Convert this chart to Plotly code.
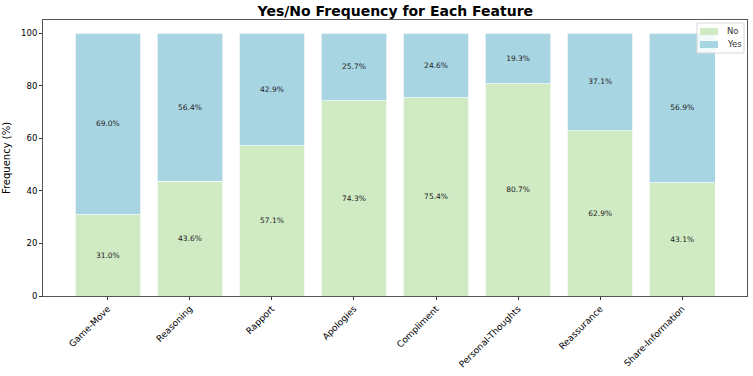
import plotly.graph_objects as go

features = ['Game-Move', 'Reasoning', 'Rapport', 'Apologies', 'Compliment',
            'Personal-Thoughts', 'Reassurance', 'Share-Information']
no_pct = [31.0, 43.6, 57.1, 74.3, 75.4, 80.7, 62.9, 43.1]
yes_pct = [69.0, 56.4, 42.9, 25.7, 24.6, 19.3, 37.1, 56.9]
y_ticks = [0, 20, 40, 60, 80, 100]

font = 'DejaVu Sans'
x = list(range(len(features)))
series = [('No', no_pct, '#d0eac3'), ('Yes', yes_pct, '#a8d5e2')]

fig = go.Figure()
for name, vals, color in series:
    fig.add_trace(go.Bar(
        x=x, y=vals, name=name, width=0.8,
        marker=dict(color=color, line=dict(color='white', width=0.7)),
        text=['{:.1f}%'.format(v) for v in vals],
        textposition='inside', insidetextanchor='middle', textangle=0,
        constraintext='none',
        textfont=dict(family=font, size=7.5, color='#222222'),
        hoverinfo='skip',
    ))

# small matplotlib-like legend box drawn by hand (plotly's own is too tall)
fig.add_shape(type='rect', xref='paper', yref='paper',
              x0=(697 - 43) / 704, x1=(744 - 43) / 704,
              y0=(296 - 53) / 276, y1=(296 - 23) / 276,
              line=dict(color='#d8d8d8', width=1), fillcolor='rgba(255,255,255,0.85)')
for i, (name, vals, color) in enumerate(series):
    yc = 31.5 + i * 13
    fig.add_shape(type='rect', xref='paper', yref='paper',
                  x0=(700 - 43) / 704, x1=(718 - 43) / 704,
                  y0=(296 - yc - 3.5) / 276, y1=(296 - yc + 3.5) / 276,
                  line=dict(width=0), fillcolor=color)
    fig.add_annotation(text=name, xref='paper', yref='paper',
                       x=(725 - 43) / 704, y=(296 - yc) / 276,
                       xanchor='left', yanchor='middle', showarrow=False,
                       font=dict(size=8.5, color='#333'))

fig.update_layout(
    barmode='stack',
    width=753, height=376,
    margin=dict(l=43, r=6, t=20, b=80, autoexpand=False),
    paper_bgcolor='white', plot_bgcolor='white',
    font=dict(family=font, size=8, color='black'),
    title=dict(text='<b>Yes/No Frequency for Each Feature</b>', x=0.525, xref='container',
               y=0.97, yanchor='middle', font=dict(family=font, size=14)),
    showlegend=False,
)
fig.update_xaxes(
    range=[-0.79, 7.79], tickmode='array', tickvals=x, ticktext=features,
    tickangle=-45, ticks='outside', ticklen=3, tickcolor='#333',
    showline=True, linecolor='#555', mirror=True, showgrid=False,
    tickfont=dict(size=9), automargin=False,
)
fig.update_yaxes(
    range=[0, 105], tickvals=y_ticks, ticks='outside', ticklen=3, tickcolor='#333',
    showline=True, linecolor='#555', mirror=True, showgrid=False, zeroline=False,
    title=dict(text='Frequency (%)', font=dict(size=10), standoff=8),
    tickfont=dict(size=8.5), automargin=False,
)

# page body has a default margin; drop it so the figure sits at 0,0
fig.write_html("out.html", config={'displayModeBar': False},
               post_script="document.body.style.margin='0';")
